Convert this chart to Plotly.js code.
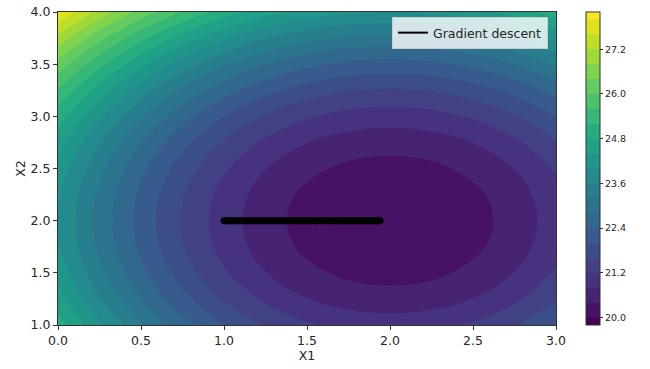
<!DOCTYPE html>
<html>
<head>
<meta charset="utf-8">
<script src="https://cdn.plot.ly/plotly-3.0.1.min.js"></script>
<style>html,body{margin:0;padding:0;background:#fff;}#chart{width:650px;height:369px;}</style>
</head>
<body>
<div id="chart"></div>
<script>
// Grid coordinates (X1 across, X2 down the rows)
const x1Grid = [0, 0.25, 0.5, 0.75, 1, 1.25, 1.5, 1.75, 2, 2.25, 2.5, 2.75, 3];
const x2Grid = [1, 1.25, 1.5, 1.75, 2, 2.25, 2.5, 2.75, 3, 3.25, 3.5, 3.75, 4];
// Surface values (rows follow x2Grid)
const zGrid = [
  [25.00, 24.06, 23.25, 22.56, 22.00, 21.56, 21.25, 21.06, 21.00, 21.06, 21.25, 21.56, 22.00],
  [24.56, 23.62, 22.81, 22.12, 21.56, 21.12, 20.81, 20.62, 20.56, 20.62, 20.81, 21.12, 21.56],
  [24.25, 23.31, 22.50, 21.81, 21.25, 20.81, 20.50, 20.31, 20.25, 20.31, 20.50, 20.81, 21.25],
  [24.06, 23.12, 22.31, 21.62, 21.06, 20.62, 20.31, 20.12, 20.06, 20.12, 20.31, 20.62, 21.06],
  [24.00, 23.06, 22.25, 21.56, 21.00, 20.56, 20.25, 20.06, 20.00, 20.06, 20.25, 20.56, 21.00],
  [24.06, 23.12, 22.31, 21.62, 21.06, 20.62, 20.31, 20.12, 20.06, 20.12, 20.31, 20.62, 21.06],
  [24.25, 23.31, 22.50, 21.81, 21.25, 20.81, 20.50, 20.31, 20.25, 20.31, 20.50, 20.81, 21.25],
  [24.56, 23.62, 22.81, 22.12, 21.56, 21.12, 20.81, 20.62, 20.56, 20.62, 20.81, 21.12, 21.56],
  [25.00, 24.06, 23.25, 22.56, 22.00, 21.56, 21.25, 21.06, 21.00, 21.06, 21.25, 21.56, 22.00],
  [25.56, 24.62, 23.81, 23.12, 22.56, 22.12, 21.81, 21.62, 21.56, 21.62, 21.81, 22.12, 22.56],
  [26.25, 25.31, 24.50, 23.81, 23.25, 22.81, 22.50, 22.31, 22.25, 22.31, 22.50, 22.81, 23.25],
  [27.06, 26.12, 25.31, 24.62, 24.06, 23.62, 23.31, 23.12, 23.06, 23.12, 23.31, 23.62, 24.06],
  [28.00, 27.06, 26.25, 25.56, 25.00, 24.56, 24.25, 24.06, 24.00, 24.06, 24.25, 24.56, 25.00]
];
// Gradient descent path
const gdX = [1.00, 1.04, 1.08, 1.12, 1.16, 1.20, 1.24, 1.28, 1.32, 1.36, 1.40, 1.44, 1.48, 1.52, 1.56, 1.60, 1.64, 1.68, 1.72, 1.75, 1.78, 1.81, 1.84, 1.86, 1.88, 1.90, 1.92, 1.93, 1.94];
const gdY = [2, 2, 2, 2, 2, 2, 2, 2, 2, 2, 2, 2, 2, 2, 2, 2, 2, 2, 2, 2, 2, 2, 2, 2, 2, 2, 2, 2, 2];
// Colorbar ticks
const cbTickVals = [20.0, 21.2, 22.4, 23.6, 24.8, 26.0, 27.2];
const cbTickText = ['20.0', '21.2', '22.4', '23.6', '24.8', '26.0', '27.2'];
const xTicks = [0, 0.5, 1, 1.5, 2, 2.5, 3];
const yTicks = [1, 1.5, 2, 2.5, 3, 3.5, 4];

const FONT = 'DejaVu Sans, Liberation Sans, sans-serif';
const TXT = '#262626';

const traces = [
  {
    type: 'contour',
    x: x1Grid, y: x2Grid, z: zGrid,
    colorscale: 'Viridis',
    autocontour: false,
    contours: {start: 20, end: 28, size: 0.4, coloring: 'fill', showlines: false},
    line: {width: 0, smoothing: 1.3},
    showlegend: false,
    hoverinfo: 'skip',
    colorbar: {
      x: 1.06, xanchor: 'left', xpad: 0, ypad: 0,
      y: 0.5, yanchor: 'middle', len: 1, lenmode: 'fraction',
      thickness: 14,
      outlinewidth: 1, outlinecolor: '#333',
      tickmode: 'array', tickvals: cbTickVals, ticktext: cbTickText,
      ticks: 'outside', ticklen: 3, tickcolor: '#333',
      tickfont: {family: FONT, size: 9.5, color: TXT}
    }
  },
  {
    type: 'scatter', mode: 'lines',
    x: gdX, y: gdY,
    name: 'Gradient descent',
    line: {color: '#000', width: 2},
    showlegend: true
  },
  {
    type: 'scatter', mode: 'lines+markers',
    x: gdX, y: gdY,
    line: {color: '#000', width: 7},
    marker: {color: '#000', size: 7},
    showlegend: false
  }
];

const axisBase = {
  showgrid: false, zeroline: false,
  showline: true, mirror: true, linecolor: '#333', linewidth: 1,
  ticks: 'outside', ticklen: 4, tickcolor: '#333', tickwidth: 1,
  tickfont: {family: FONT, size: 12.5, color: TXT},
  tickformat: '.1f', tickmode: 'array'
};

const layout = {
  width: 650, height: 369,
  margin: {l: 58, r: 94, t: 12, b: 44},
  paper_bgcolor: '#fff', plot_bgcolor: '#fff',
  font: {family: FONT, color: TXT},
  xaxis: Object.assign({}, axisBase, {
    range: [0, 3], tickvals: xTicks,
    title: {text: 'X1', font: {family: FONT, size: 12.5, color: TXT}, standoff: 2}
  }),
  yaxis: Object.assign({}, axisBase, {
    range: [1, 4], tickvals: yTicks,
    title: {text: 'X2', font: {family: FONT, size: 12.5, color: TXT}, standoff: 2}
  }),
  legend: {
    x: 0.984, y: 0.984, xanchor: 'right', yanchor: 'top',
    bgcolor: 'rgba(255,255,255,0.8)', bordercolor: '#cccccc', borderwidth: 1,
    font: {family: FONT, size: 12.5, color: TXT},
    itemwidth: 30
  },
  showlegend: true
};

Plotly.newPlot('chart', traces, layout, {displayModeBar: false, staticPlot: true});
</script>
</body>
</html>
